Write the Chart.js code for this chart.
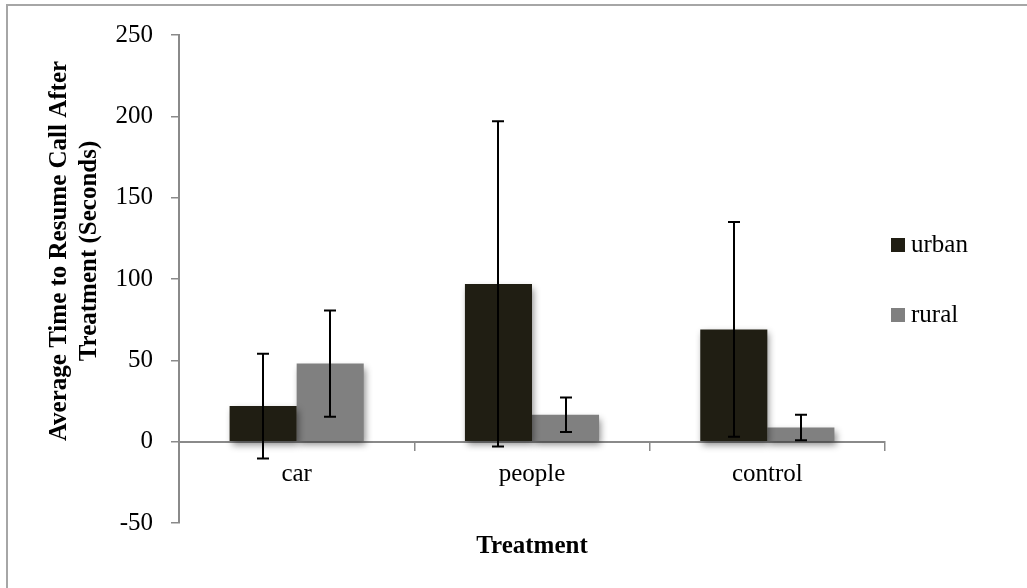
<!DOCTYPE html>
<html>
<head>
<meta charset="utf-8">
<script src="https://cdn.jsdelivr.net/npm/chart.js@4.4.0/dist/chart.umd.min.js"></script>
<style>
  html, body { margin: 0; padding: 0; background: #ffffff; }
  #wrap { position: relative; width: 1027px; height: 588px; }
</style>
</head>
<body>
<div id="wrap"><canvas id="c" width="1027" height="588"></canvas></div>
<script>
// ---- data ----
const categories = ["car", "people", "control"];
const seriesNames = ["urban", "rural"];
const urbanValues = [21.9, 97.0, 69.0];
const ruralValues = [48.0, 16.5, 8.7];
const urbanErrors = [32.2, 100.0, 66.0];
const ruralErrors = [32.7, 10.6, 7.8];
const yTicks = [-50, 0, 50, 100, 150, 200, 250];
const xTitle = "Treatment";
const yTitleLines = ["Average Time to Resume Call After", "Treatment (Seconds)"];

const FONT = "'Liberation Serif', 'DejaVu Serif', serif";
const AXIS_GRAY = "#8a8a8a";
const URBAN_COLOR = "#201e13";
const RURAL_COLOR = "#808080";

const errorSets = [urbanErrors, ruralErrors];

const shadowPlugin = {
  id: "barShadow",
  beforeDatasetDraw(chart) {
    const ctx = chart.ctx;
    ctx.save();
    ctx.shadowColor = "rgba(0,0,0,0.45)";
    ctx.shadowBlur = 7;
    ctx.shadowOffsetX = 2;
    ctx.shadowOffsetY = 4;
  },
  afterDatasetDraw(chart) {
    chart.ctx.restore();
  }
};

const errorBarPlugin = {
  id: "errorBars",
  afterDatasetsDraw(chart) {
    const ctx = chart.ctx;
    const y = chart.scales.y;
    ctx.save();
    ctx.strokeStyle = "#000000";
    ctx.lineWidth = 2;
    chart.data.datasets.forEach((ds, di) => {
      const meta = chart.getDatasetMeta(di);
      meta.data.forEach((bar, i) => {
        const v = ds.data[i];
        const e = errorSets[di][i];
        const x = Math.round(bar.x);
        const yt = y.getPixelForValue(v + e);
        const yb = y.getPixelForValue(v - e);
        ctx.beginPath();
        ctx.moveTo(x, yt); ctx.lineTo(x, yb);
        ctx.moveTo(x - 6, yt); ctx.lineTo(x + 6, yt);
        ctx.moveTo(x - 6, yb); ctx.lineTo(x + 6, yb);
        ctx.stroke();
      });
    });
    ctx.restore();
  }
};

const decorPlugin = {
  id: "decor",
  beforeDraw(chart) {
    const ctx = chart.ctx;
    ctx.save();
    ctx.fillStyle = "#ffffff";
    ctx.fillRect(0, 0, chart.width, chart.height);
    ctx.strokeStyle = "#a6a6a6";
    ctx.lineWidth = 2;
    ctx.beginPath();
    ctx.moveTo(7, chart.height + 5);
    ctx.lineTo(7, 5);
    ctx.lineTo(chart.width + 5, 5);
    ctx.stroke();
    ctx.restore();
  },
  afterDraw(chart) {
    const ctx = chart.ctx;
    const area = chart.chartArea;
    ctx.save();
    ctx.fillStyle = "#000000";
    // x title
    ctx.font = "bold 25px " + FONT;
    ctx.textAlign = "center";
    ctx.textBaseline = "middle";
    ctx.fillText(xTitle, (area.left + area.right) / 2, 547);
    // y title
    ctx.translate(75, 251);
    ctx.rotate(-Math.PI / 2);
    ctx.fillText(yTitleLines[0], 0, -15);
    ctx.fillText(yTitleLines[1], 0, 15);
    ctx.restore();
    // legend
    ctx.save();
    ctx.font = "25px " + FONT;
    ctx.textAlign = "left";
    ctx.textBaseline = "middle";
    const ys = [245, 315];
    chart.data.datasets.forEach((ds, i) => {
      ctx.fillStyle = ds.backgroundColor;
      ctx.fillRect(891, ys[i] - 7, 14, 14);
      ctx.fillStyle = "#000000";
      ctx.fillText(ds.label, 911, ys[i]);
    });
    ctx.restore();
  }
};

new Chart(document.getElementById("c"), {
  type: "bar",
  data: {
    labels: categories,
    datasets: [
      { label: seriesNames[0], data: urbanValues, backgroundColor: URBAN_COLOR },
      { label: seriesNames[1], data: ruralValues, backgroundColor: RURAL_COLOR }
    ]
  },
  options: {
    responsive: false,
    animation: false,
    devicePixelRatio: 1,
    layout: { padding: { top: 35, bottom: 65, left: 0, right: 142 } },
    datasets: { bar: { categoryPercentage: 0.57, barPercentage: 1.0 } },
    plugins: { legend: { display: false }, tooltip: { enabled: false } },
    scales: {
      x: {
        position: { y: 0 },
        offset: true,
        grid: { display: true, drawOnChartArea: false, drawTicks: true, tickLength: 8, color: AXIS_GRAY, lineWidth: 1.5, offset: true },
        border: { display: true, color: AXIS_GRAY, width: 2 },
        ticks: { color: "#000000", font: { family: FONT, size: 25 }, padding: 10 }
      },
      y: {
        min: yTicks[0],
        max: yTicks[yTicks.length - 1],
        afterBuildTicks(scale) { scale.ticks = yTicks.map(v => ({ value: v })); },
        afterFit(scale) { scale.width = 179; },
        grid: { display: true, drawOnChartArea: false, drawTicks: true, tickLength: 8, color: AXIS_GRAY, lineWidth: 1.5 },
        border: { display: true, color: AXIS_GRAY, width: 2 },
        ticks: { color: "#000000", font: { family: FONT, size: 25 }, padding: 18 }
      }
    }
  },
  plugins: [decorPlugin, shadowPlugin, errorBarPlugin]
});
</script>
</body>
</html>
